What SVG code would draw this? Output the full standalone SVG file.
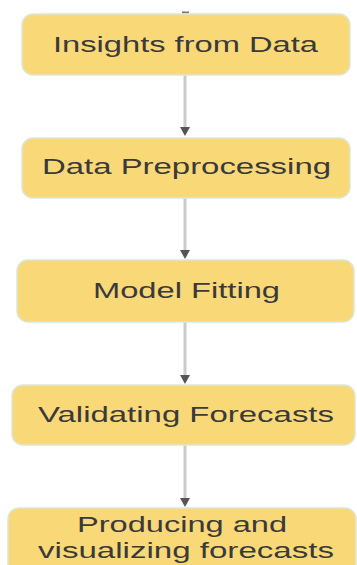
<svg xmlns="http://www.w3.org/2000/svg" width="357" height="565" viewBox="0 0 357 565">
<style>
.box{fill:#f9d877;stroke:#dde6d6;stroke-width:1.5}
.lbl{font-family:"Liberation Sans",Arial,sans-serif;font-size:22px;fill:#3a3a3a;text-anchor:middle}
.edge{stroke:#cbcbcb;stroke-width:3;fill:none}
.head{fill:#555555}
</style>
<rect width="357" height="565" fill="#ffffff"/>
<g id="connectors">
<line x1="182" y1="12.5" x2="189" y2="12.5" stroke="#777" stroke-width="2"/>
<line class="edge" x1="185" y1="75" x2="185" y2="128"/>
<path class="head" d="M180 127 L190 127 L185 136 Z"/>
<line class="edge" x1="185" y1="198" x2="185" y2="251"/>
<path class="head" d="M180 250 L190 250 L185 259 Z"/>
<line class="edge" x1="185" y1="322" x2="185" y2="376"/>
<path class="head" d="M180 375 L190 375 L185 384 Z"/>
<line class="edge" x1="185" y1="445" x2="185" y2="499"/>
<path class="head" d="M180 498 L190 498 L185 507 Z"/>
</g>
<g id="n1">
<rect class="box" x="22" y="14" width="328" height="61" rx="11"/>
<text class="lbl" x="185.5" y="52" textLength="265" lengthAdjust="spacingAndGlyphs">Insights from Data</text>
</g>
<g id="n2">
<rect class="box" x="22" y="138" width="328" height="60" rx="11"/>
<text class="lbl" x="186.5" y="174" textLength="289" lengthAdjust="spacingAndGlyphs">Data Preprocessing</text>
</g>
<g id="n3">
<rect class="box" x="17" y="260" width="337" height="62" rx="11"/>
<text class="lbl" x="186.5" y="298" textLength="187" lengthAdjust="spacingAndGlyphs">Model Fitting</text>
</g>
<g id="n4">
<rect class="box" x="12" y="385" width="343" height="60" rx="11"/>
<text class="lbl" x="186" y="422" textLength="296" lengthAdjust="spacingAndGlyphs">Validating Forecasts</text>
</g>
<g id="n5">
<rect class="box" x="8" y="508" width="348" height="70" rx="11"/>
<text class="lbl" x="182" y="532" textLength="210" lengthAdjust="spacingAndGlyphs">Producing and</text>
<text class="lbl" x="186" y="558" textLength="296" lengthAdjust="spacingAndGlyphs">visualizing forecasts</text>
</g>
</svg>
